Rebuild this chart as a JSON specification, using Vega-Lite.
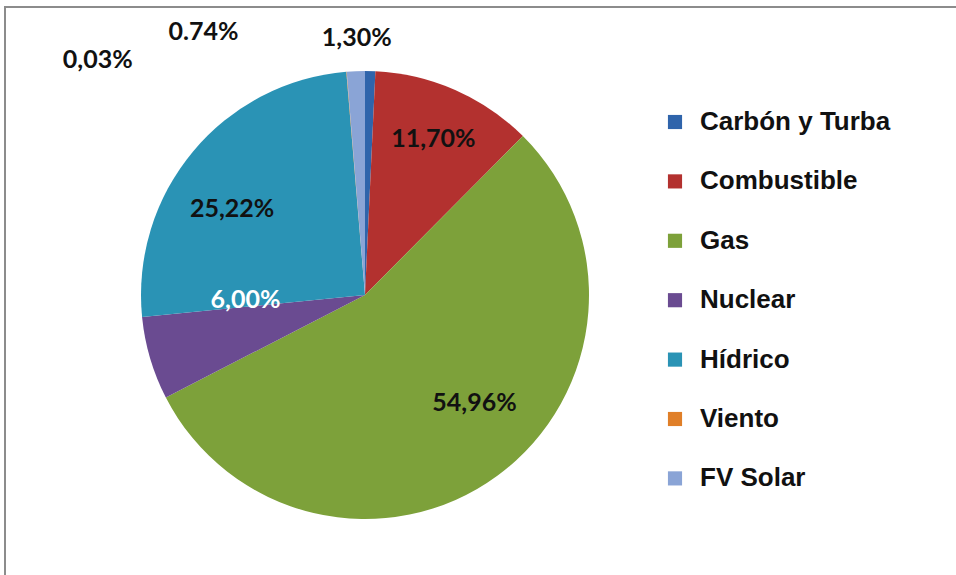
{
  "$schema": "https://vega.github.io/schema/vega-lite/v6.json",
  "autosize": {"type": "none"},
  "width": 951,
  "height": 568,
  "padding": {"left": 5, "top": 7, "right": 0, "bottom": 0},
  "background": "white",
  "config": {
    "view": {"stroke": null},
    "text": {"font": "Lato", "fontWeight": "bold", "fontSize": 25}
  },
  "data": {
    "values": [
      {"fuente": "Carbón y Turba", "valor": 0.74, "orden": 1, "etiqueta": "1,30%"},
      {"fuente": "Combustible", "valor": 11.70, "orden": 2, "etiqueta": "11,70%"},
      {"fuente": "Gas", "valor": 54.96, "orden": 3, "etiqueta": "54,96%"},
      {"fuente": "Nuclear", "valor": 6.00, "orden": 4, "etiqueta": "6,00%"},
      {"fuente": "Hídrico", "valor": 25.22, "orden": 5, "etiqueta": "25,22%"},
      {"fuente": "Viento", "valor": 0.03, "orden": 6, "etiqueta": "0,03%"},
      {"fuente": "FV Solar", "valor": 1.30, "orden": 7, "etiqueta": "0.74%"}
    ]
  },
  "layer": [
    {
      "mark": {"type": "rect", "fill": "transparent", "stroke": "#8c8c8c", "strokeWidth": 2},
      "encoding": {
        "x": {"value": 0},
        "x2": {"value": 1000},
        "y": {"value": 0},
        "y2": {"value": 700}
      }
    },
    {
      "encoding": {
        "theta": {"field": "valor", "type": "quantitative", "stack": true},
        "order": {"field": "orden", "type": "quantitative"}
      },
      "layer": [
        {
          "mark": {"type": "arc", "radius": 224, "x": 360, "y": 288, "stroke": null},
          "encoding": {
            "color": {
              "field": "fuente",
              "type": "nominal",
              "sort": ["Carbón y Turba", "Combustible", "Gas", "Nuclear", "Hídrico", "Viento", "FV Solar"],
              "scale": {
                "domain": ["Carbón y Turba", "Combustible", "Gas", "Nuclear", "Hídrico", "Viento", "FV Solar"],
                "range": ["#2F64AB", "#B3312F", "#7DA13A", "#6A4B91", "#2A93B5", "#E07F28", "#8AA4D6"]
              },
              "legend": {
                "title": null,
                "orient": "none",
                "legendX": 657,
                "legendY": 102,
                "padding": 0,
                "symbolType": "square",
                "symbolSize": 200,
                "symbolStrokeWidth": 0,
                "labelFont": "Liberation Sans",
                "labelFontWeight": "bold",
                "labelFontSize": 26,
                "labelColor": "#111111",
                "labelOffset": 12,
                "rowPadding": 33.4,
                "labelLimit": 300
              }
            }
          }
        },
        {
          "mark": {"type": "text", "radius": 160, "x": 360, "y": 288, "dx": 4, "dy": -10, "color": "#111111"},
          "encoding": {"text": {"condition": {"test": "datum.fuente === 'Combustible'", "field": "etiqueta"}, "value": ""}}
        },
        {
          "mark": {"type": "text", "radius": 160, "x": 360, "y": 288, "dx": 15, "dy": -21, "color": "#111111"},
          "encoding": {"text": {"condition": {"test": "datum.fuente === 'Gas'", "field": "etiqueta"}, "value": ""}}
        },
        {
          "mark": {"type": "text", "radius": 160, "x": 360, "y": 288, "dx": -10, "dy": 16, "color": "#111111"},
          "encoding": {"text": {"condition": {"test": "datum.fuente === 'Hídrico'", "field": "etiqueta"}, "value": ""}}
        },
        {
          "mark": {"type": "text", "radius": 160, "x": 360, "y": 288, "dx": 34, "dy": -40, "color": "white"},
          "encoding": {"text": {"condition": {"test": "datum.fuente === 'Nuclear'", "field": "etiqueta"}, "value": ""}}
        },
        {
          "mark": {"type": "text", "radius": 160, "x": 360, "y": 288, "dx": -12, "dy": -97, "color": "#111111"},
          "encoding": {"text": {"condition": {"test": "datum.fuente === 'Carbón y Turba'", "field": "etiqueta"}, "value": ""}}
        },
        {
          "mark": {"type": "text", "radius": 160, "x": 360, "y": 288, "dx": -155, "dy": -103, "color": "#111111"},
          "encoding": {"text": {"condition": {"test": "datum.fuente === 'FV Solar'", "field": "etiqueta"}, "value": ""}}
        },
        {
          "mark": {"type": "text", "radius": 160, "x": 360, "y": 288, "dx": -254, "dy": -76, "color": "#111111"},
          "encoding": {"text": {"condition": {"test": "datum.fuente === 'Viento'", "field": "etiqueta"}, "value": ""}}
        }
      ]
    }
  ]
}
